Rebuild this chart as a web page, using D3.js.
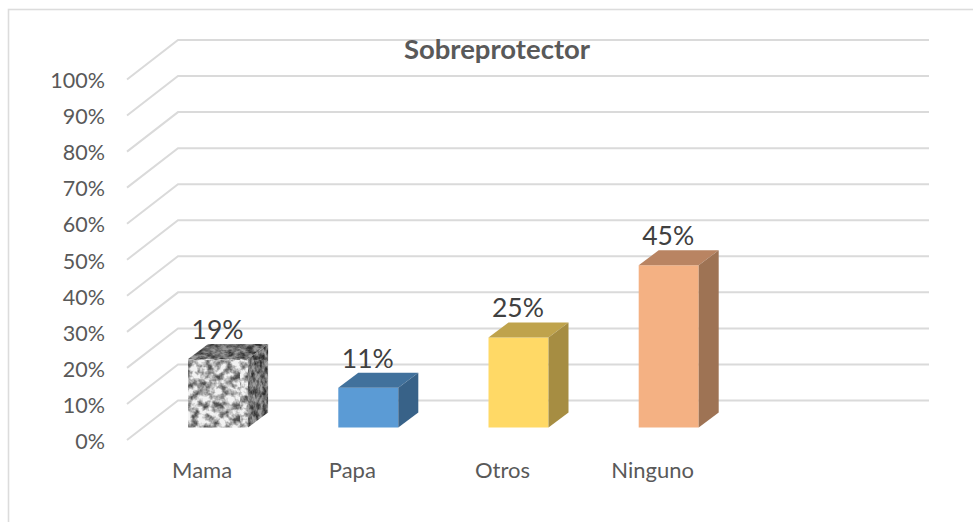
<!DOCTYPE html>
<html>
<head>
<meta charset="utf-8">
<style>
html,body{margin:0;padding:0;background:#fff;overflow:hidden}
svg{display:block}
text{font-family:Lato,"Noto Sans",sans-serif}
</style>
<script src="https://cdn.jsdelivr.net/npm/d3@7"></script>
</head>
<body>
<svg id="chart" width="973" height="522"></svg>
<script>
const titleText = "Sobreprotector";
const categories = ["Mama", "Papa", "Otros", "Ninguno", ""];
const values = [19, 11, 25, 45];
const frontColors = ["url(#stone)", "#5b9bd5", "#ffd966", "#f4b183"];
const topColors = ["url(#stoneTop)", "#41719c", "#bfa34c", "#b98462"];
const sideColors = ["url(#stoneSide)", "#386288", "#a68d42", "#9e7354"];
const yTicks = [0, 10, 20, 30, 40, 50, 60, 70, 80, 90, 100];

const svg = d3.select("#chart");
const frontLeft = 127, frontRight = 878, frontBase = 440, frontTop = 79.5;
const depthX = 51, depthY = 39.5;

const y = d3.scaleLinear().domain([0, 100]).range([frontBase, frontTop]);
const x = d3.scaleBand().domain(categories).range([frontLeft, frontRight]);

const defs = svg.append("defs");
function stone(id, lo, hi, freqX, freqY) {
  const f = defs.append("filter").attr("id", id + "F").attr("x", 0).attr("y", 0).attr("width", 1).attr("height", 1)
    .attr("color-interpolation-filters", "sRGB");
  f.append("feTurbulence").attr("type", "fractalNoise").attr("baseFrequency", freqX + " " + freqY)
    .attr("numOctaves", 3).attr("seed", 7);
  f.append("feColorMatrix").attr("type", "matrix")
    .attr("values", "2.4 0 0 0 -0.6 2.4 0 0 0 -0.6 2.4 0 0 0 -0.6 0 0 0 0 1");
  const t = f.append("feComponentTransfer");
  ["feFuncR", "feFuncG", "feFuncB"].forEach(n => t.append(n).attr("type", "table").attr("tableValues", lo + " " + hi));
  const p = defs.append("pattern").attr("id", id).attr("patternUnits", "userSpaceOnUse")
    .attr("width", 120).attr("height", 120);
  p.append("rect").attr("width", 120).attr("height", 120).attr("fill", "#888").attr("filter", "url(#" + id + "F)");
}
stone("stone", 0.32, 0.95, 0.14, 0.14);
stone("stoneTop", 0.2, 0.6, 0.14, 0.26);
stone("stoneSide", 0.18, 0.62, 0.26, 0.14);

// chart frame
svg.append("rect").attr("x", 8.5).attr("y", 9.5).attr("width", 1000).attr("height", 600)
  .attr("fill", "none").attr("stroke", "#dcdcdc").attr("stroke-width", 1.6);

// gridlines
const grid = svg.append("g").attr("fill", "none").attr("stroke", "#dadada").attr("stroke-width", 2);
grid.selectAll("path").data(yTicks).join("path")
  .attr("d", d => {
    const yy = y(d);
    return d3.line()([[frontLeft, yy], [frontLeft + depthX, yy - depthY], [frontRight + depthX, yy - depthY]]);
  });

// y axis labels
const yAxis = d3.axisLeft(y).tickValues(yTicks).tickFormat(d => d + "%").tickSize(0).tickPadding(0);
const yG = svg.append("g").attr("transform", "translate(105,0.5)").call(yAxis);
yG.select(".domain").remove();
yG.selectAll("text").attr("font-size", 21.5).attr("fill", "#595959")
  .style("font-family", "Lato,sans-serif").attr("dy", "0.36em");

// x axis labels
const xAxis = d3.axisBottom(x).tickValues(categories.filter(c => c)).tickSize(0).tickPadding(0);
const xG = svg.append("g").attr("transform", "translate(0,462)").call(xAxis);
xG.select(".domain").remove();
xG.selectAll("text").attr("font-size", 22).attr("fill", "#595959")
  .style("font-family", "Lato,sans-serif");

// 3D bars
const barOffset = 16, barBase = 427.5, bw = 60, bdx = 20, bdy = 15;
const rows = values.map((v, i) => ({ v, i, c: categories[i] }));
const bars = svg.append("g").selectAll("g").data(rows).join("g");
const bx = d => x(d.c) + x.bandwidth() / 2 - bw / 2 + barOffset;
const by = d => barBase - (y(0) - y(d.v));
bars.append("path").attr("fill", d => frontColors[d.i])
  .attr("d", d => d3.line()([[bx(d), by(d)], [bx(d) + bw, by(d)], [bx(d) + bw, barBase], [bx(d), barBase]]) + "Z");
bars.append("path").attr("fill", d => topColors[d.i])
  .attr("d", d => d3.line()([[bx(d), by(d)], [bx(d) + bdx, by(d) - bdy], [bx(d) + bw + bdx, by(d) - bdy], [bx(d) + bw, by(d)]]) + "Z");
bars.append("path").attr("fill", d => sideColors[d.i])
  .attr("d", d => d3.line()([[bx(d) + bw, by(d)], [bx(d) + bw + bdx, by(d) - bdy], [bx(d) + bw + bdx, barBase - bdy], [bx(d) + bw, barBase]]) + "Z");
bars.append("text").attr("text-anchor", "middle").attr("font-size", 26.5).attr("fill", "#404040")
  .attr("x", d => bx(d) + bw / 2 - 0.5).attr("y", d => by(d) - 20)
  .text(d => d.v + "%");

// title
svg.append("text").attr("x", 497).attr("y", 58.5).attr("text-anchor", "middle")
  .attr("font-size", 27.5).attr("font-weight", 700).attr("fill", "#595959").text(titleText);
</script>
</body>
</html>
